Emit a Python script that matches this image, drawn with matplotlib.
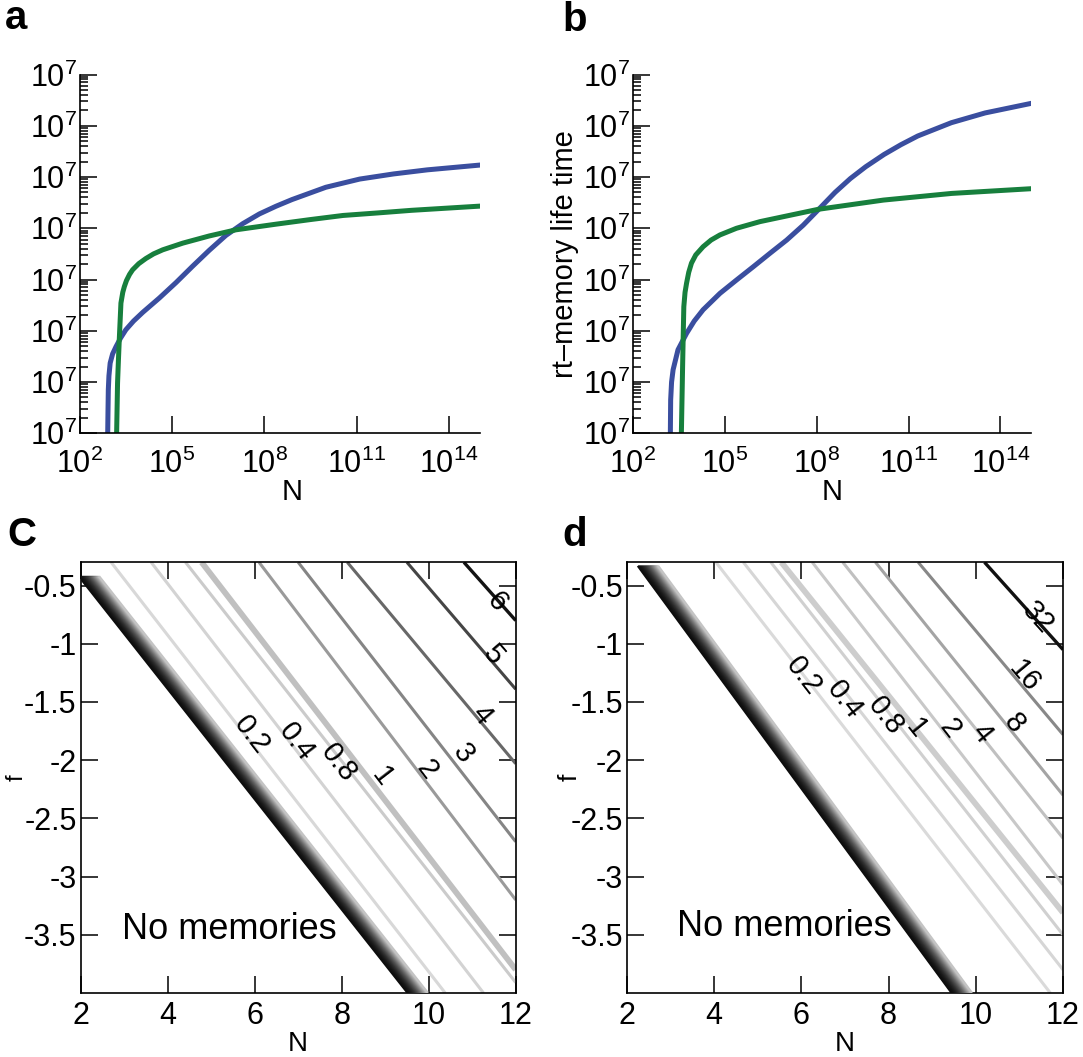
import numpy as np
import matplotlib
matplotlib.use("Agg")
import matplotlib.pyplot as plt
from matplotlib.ticker import FixedLocator, LogLocator, NullFormatter, NullLocator

plt.rcParams['font.family'] = ['Liberation Sans', 'DejaVu Sans']
plt.rcParams['mathtext.fontset'] = 'custom'
plt.rcParams['mathtext.rm'] = 'Liberation Sans'
plt.rcParams['mathtext.default'] = 'regular'
plt.rcParams['axes.unicode_minus'] = False

# --- panels a, b: life time vs N (log10 values) ---
A_BLUE_LOGN = [2.905, 2.91, 2.92, 2.93, 2.95, 2.99, 3.07, 3.18, 3.33, 3.50, 3.75, 4.05,
               4.59, 5.13, 5.67, 6.21, 6.75, 7.30, 7.84, 8.38, 8.90, 10.0, 11.1, 12.2,
               13.3, 14.95]
A_BLUE_LOGY = [-1.0, 0.0, 0.45, 0.85, 1.12, 1.37, 1.55, 1.69, 1.86, 2.02, 2.19, 2.36,
               2.64, 2.94, 3.26, 3.57, 3.86, 4.09, 4.28, 4.43, 4.56, 4.80, 4.96, 5.06,
               5.14, 5.23]
A_GREEN_LOGN = [3.195, 3.20, 3.23, 3.26, 3.29, 3.34, 3.40, 3.45, 3.52, 3.62, 3.72, 3.92,
                4.15, 4.40, 4.70, 5.35, 6.21, 7.08, 8.38, 9.50, 10.56, 11.70, 12.78,
                14.95]
A_GREEN_LOGY = [-1.0, 0.0, 0.98, 1.45, 1.88, 2.54, 2.75, 2.86, 2.98, 3.10, 3.19, 3.31,
                3.41, 3.50, 3.58, 3.71, 3.85, 3.97, 4.08, 4.17, 4.25, 4.30, 4.35, 4.43]

B_BLUE_LOGN = [3.215, 3.22, 3.23, 3.26, 3.31, 3.47, 3.75, 4.00, 4.29, 4.84, 5.38, 5.93,
               6.47, 7.02, 7.56, 8.05, 8.60, 9.10, 9.60, 10.20, 10.75, 11.30, 12.40,
               13.50, 14.95]
B_BLUE_LOGY = [-1.0, 0.0, 0.65, 1.0, 1.24, 1.63, 1.95, 2.19, 2.41, 2.73, 2.99, 3.25,
               3.51, 3.77, 4.06, 4.36, 4.70, 4.97, 5.20, 5.44, 5.63, 5.80, 6.06, 6.25,
               6.43]
B_GREEN_LOGN = [3.575, 3.58, 3.60, 3.62, 3.64, 3.66, 3.70, 3.75, 3.82, 3.91, 4.05, 4.29,
                4.55, 4.84, 5.38, 6.15, 7.02, 8.05, 10.18, 12.41, 14.95]
B_GREEN_LOGY = [-1.0, 0.0, 0.65, 1.30, 1.90, 2.47, 2.75, 2.93, 3.14, 3.32, 3.48, 3.64,
                3.77, 3.87, 4.00, 4.13, 4.24, 4.37, 4.55, 4.68, 4.77]

X_TICK_LOGN = [2, 5, 8, 11, 14]
X_TICK_LABELS = [r'$10^{2}$', r'$10^{5}$', r'$10^{8}$', r'$10^{11}$', r'$10^{14}$']
Y_TICK_LOG = [0, 1, 2, 3, 4, 5, 6, 7]
Y_TICK_LABELS = [r'$10^{7}$'] * 8

# --- panels c, d: straight contour lines in the (N, f) plane ---
F_TOP = -0.3
C_LEVELS = ['0.2', '0.4', '0.8', '1', '2', '3', '4', '5', '6']
C_N_TOP = [2.70, 3.62, 4.41, 4.78, 6.10, 7.00, 8.13, 9.50, 10.81]
C_N_END = [10.38, 11.26, 12.0, 12.0, 12.0, 12.0, 12.0, 12.0, 12.0]
C_F_END = [-4.0, -4.0, -3.91, -3.80, -3.20, -2.70, -2.03, -1.39, -0.80]
C_LABEL_N = [5.93, 6.97, 7.92, 8.92, 9.95, 10.80, 11.22, 11.49, 11.56]
C_LABEL_F = [-1.78, -1.84, -2.02, -2.14, -2.08, -1.94, -1.61, -1.10, -0.64]
C_BAND_N = [1.96, 9.52]
C_BAND_F = [-0.42, -4.0]

D_LEVELS = ['0.2', '0.4', '0.8', '1', '2', '4', '8', '16', '32']
D_N_TOP = [4.04, 4.67, 5.30, 5.54, 6.25, 6.95, 7.70, 8.68, 10.20]
D_N_END = [11.71, 12.0, 12.0, 12.0, 12.0, 12.0, 12.0, 12.0, 12.0]
D_F_END = [-4.0, -3.80, -3.50, -3.31, -3.07, -2.67, -2.30, -1.78, -1.05]
D_LABEL_N = [6.06, 7.00, 7.94, 8.62, 9.41, 10.13, 10.88, 11.11, 11.41]
D_LABEL_F = [-1.28, -1.48, -1.62, -1.73, -1.73, -1.77, -1.68, -1.28, -0.78]
D_BAND_N = [2.25, 9.45]
D_BAND_F = [-0.33, -4.0]

C_TICKS_X = [2, 4, 6, 8, 10, 12]
C_TICKS_Y = [-3.5, -3, -2.5, -2, -1.5, -1, -0.5]

# styles
BLUE = '#3a4e9f'
GREEN = '#177f3d'
C_COLORS = ['#d8d8d8', '#d3d3d3', '#cbcbcb', '#c0c0c0', '#9a9a9a', '#858585',
            '#686868', '#454545', '#131313']
C_WIDTHS = [2.2, 2.2, 2.2, 4.2, 2.2, 2.2, 2.2, 2.2, 2.4]
D_COLORS = ['#dadada', '#d6d6d6', '#d0d0d0', '#cdcdcd', '#c8c8c8', '#c0c0c0',
            '#a4a4a4', '#888888', '#111111']
D_WIDTHS = [2.2, 2.2, 2.2, 4.2, 2.2, 2.2, 2.2, 2.2, 2.4]
TICK_FS = 22

W, H = 1083, 1057
fig = plt.figure(figsize=(W / 100, H / 100), dpi=100)


def px_axes(x0, y0, x1, y1):
    return fig.add_axes([x0 / W, 1 - y1 / H, (x1 - x0) / W, (y1 - y0) / H])


def life_panel(ax, bn, by, gn, gy):
    ax.plot(10.0 ** np.array(bn), 10.0 ** np.array(by), color=BLUE, lw=3.6)
    ax.plot(10.0 ** np.array(gn), 10.0 ** np.array(gy), color=GREEN, lw=3.6)
    ax.set_xscale('log')
    ax.set_yscale('log')
    ax.set_xlim(1e2, 1e15)
    ax.set_ylim(1, 1e7)
    ax.set_xticks(10.0 ** np.array(X_TICK_LOGN), X_TICK_LABELS)
    ax.xaxis.set_minor_locator(NullLocator())
    ax.yaxis.set_major_locator(FixedLocator(10.0 ** np.array(Y_TICK_LOG)))
    ax.set_yticklabels(Y_TICK_LABELS)
    ax.yaxis.set_minor_locator(LogLocator(base=10, subs=np.arange(2, 10), numticks=30))
    ax.yaxis.set_minor_formatter(NullFormatter())
    ax.spines['top'].set_visible(False)
    ax.spines['right'].set_visible(False)
    for s in ['left', 'bottom']:
        ax.spines[s].set_linewidth(1.2)
    ax.tick_params(which='both', direction='in', top=False, right=False,
                   labelsize=TICK_FS, width=1.1)
    ax.tick_params(axis='x', which='major', length=12, pad=11)
    ax.tick_params(axis='y', which='major', length=12, pad=2)
    ax.tick_params(axis='y', which='minor', length=6)
    ax.set_xlabel('N', fontsize=21)


def contour_panel(ax, levels, n_top, n_end, f_end, lab_n, lab_f, colors, widths,
                  band_n, band_f, note_xy):
    ax.set_xlim(2, 12)
    ax.set_ylim(-4.0, F_TOP)
    for i in range(len(levels)):
        ax.plot([n_top[i], n_end[i]], [F_TOP, f_end[i]], color=colors[i],
                lw=widths[i], solid_capstyle='butt', zorder=2)
    # boundary of the "no memories" region, drawn as a dark-to-grey band
    k = 20
    t = np.linspace(0, 1, k)
    for j in range(k):
        g = 0.05 + 0.72 * t[j] ** 1.8
        off = 0.46 * t[j]
        ax.plot([band_n[0] + off, band_n[1] + off], band_f, color=(g, g, g),
                lw=1.8, solid_capstyle='butt', zorder=3)
    # level labels along the lines
    for i in range(len(levels)):
        p0 = ax.transData.transform((n_top[i], F_TOP))
        p1 = ax.transData.transform((n_end[i], f_end[i]))
        ang = np.degrees(np.arctan2(p1[1] - p0[1], p1[0] - p0[0]))
        ax.text(lab_n[i], lab_f[i], levels[i], fontsize=21, rotation=ang,
                rotation_mode='anchor', ha='center', va='center', zorder=4)
    ax.text(note_xy[0], note_xy[1], 'No memories', fontsize=26, ha='left',
            va='baseline', zorder=4)
    ax.set_xticks(C_TICKS_X, [str(v) for v in C_TICKS_X])
    ax.set_yticks(C_TICKS_Y, [('%g' % v) for v in C_TICKS_Y])
    for s in ax.spines.values():
        s.set_linewidth(1.2)
    ax.tick_params(direction='in', top=True, right=True, length=12, width=1.1,
                   labelsize=TICK_FS)
    ax.tick_params(axis='x', pad=6)
    ax.tick_params(axis='y', pad=3)
    ax.set_xlabel('N', fontsize=20)


ax_a = px_axes(79.7, 74.5, 479.7, 433.3)
ax_b = px_axes(633, 74.5, 1031, 433.3)
ax_c = px_axes(80.7, 562.3, 515.7, 993)
ax_d = px_axes(627, 562.3, 1063, 993)

life_panel(ax_a, A_BLUE_LOGN, A_BLUE_LOGY, A_GREEN_LOGN, A_GREEN_LOGY)
life_panel(ax_b, B_BLUE_LOGN, B_BLUE_LOGY, B_GREEN_LOGN, B_GREEN_LOGY)
ax_a.xaxis.set_label_coords(0.53, -0.125)
ax_b.xaxis.set_label_coords(0.50, -0.125)
ax_b.set_ylabel('rt\u2013memory life time', fontsize=21)
ax_b.yaxis.set_label_coords(-0.135, 0.5)

contour_panel(ax_c, C_LEVELS, C_N_TOP, C_N_END, C_F_END, C_LABEL_N, C_LABEL_F,
              C_COLORS, C_WIDTHS, C_BAND_N, C_BAND_F, (2.94, -3.54))
contour_panel(ax_d, D_LEVELS, D_N_TOP, D_N_END, D_F_END, D_LABEL_N, D_LABEL_F,
              D_COLORS, D_WIDTHS, D_BAND_N, D_BAND_F, (3.14, -3.51))
ax_c.xaxis.set_label_coords(0.50, -0.088)
ax_d.xaxis.set_label_coords(0.50, -0.088)
ax_c.set_ylabel('f', fontsize=17)
ax_c.yaxis.set_label_coords(-0.123, 0.5)
ax_d.set_ylabel('f', fontsize=19)
ax_d.yaxis.set_label_coords(-0.104, 0.5)

fig.text(5 / W, 1 - 29 / H, 'a', fontsize=29, fontweight='bold', va='baseline')
fig.text(562 / W, 1 - 31 / H, 'b', fontsize=29, fontweight='bold', va='baseline')
fig.text(7 / W, 1 - 546 / H, 'C', fontsize=29, fontweight='bold', va='baseline')
fig.text(562 / W, 1 - 546 / H, 'd', fontsize=29, fontweight='bold', va='baseline')

fig.savefig('out.png', dpi=100)
